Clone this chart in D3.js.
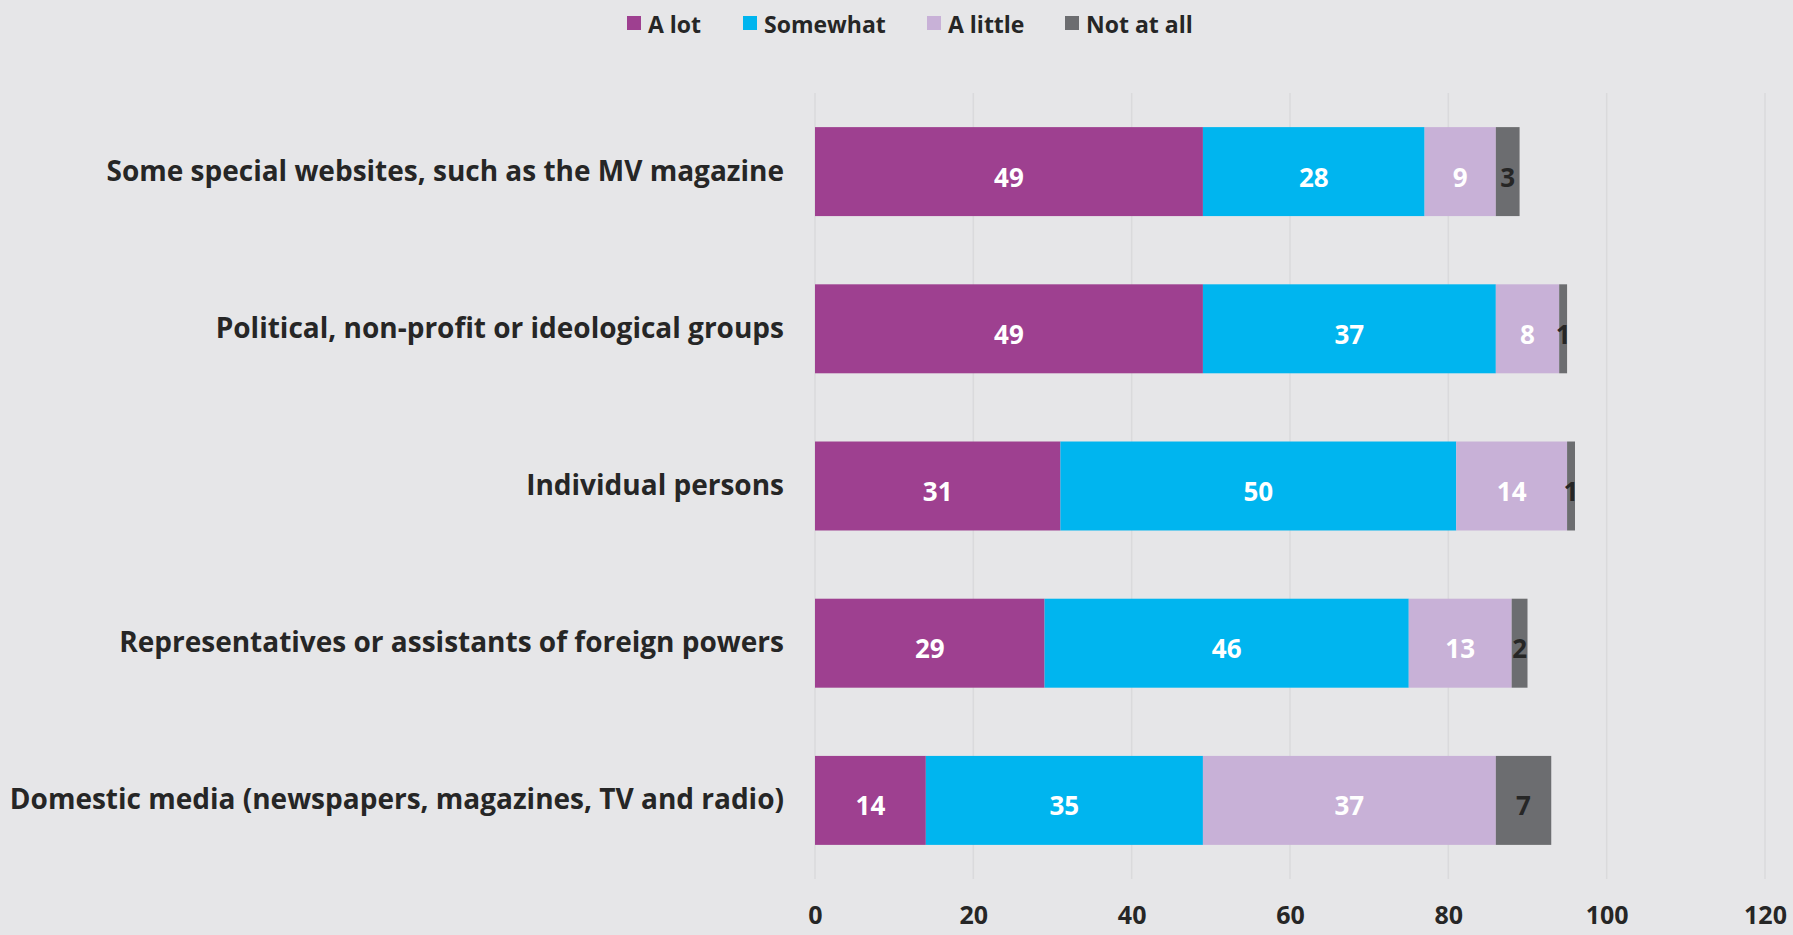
<!DOCTYPE html>
<html>
<head>
<meta charset="utf-8">
<script src="https://cdn.jsdelivr.net/npm/d3@7"></script>
<style>
  html, body { margin: 0; padding: 0; background: #e6e6e8; }
  svg { display: block; }
  text { font-family: "Open Sans", "Noto Sans", sans-serif; }
</style>
</head>
<body>
<svg id="chart" width="1793" height="935"></svg>
<script>
const categories = [
  "Some special websites, such as the MV magazine",
  "Political, non-profit or ideological groups",
  "Individual persons",
  "Representatives or assistants of foreign powers",
  "Domestic media (newspapers, magazines, TV and radio)"
];
const seriesNames = ["A lot", "Somewhat", "A little", "Not at all"];
const aLot      = [49, 49, 31, 29, 14];
const somewhat  = [28, 37, 50, 46, 35];
const aLittle   = [9, 8, 14, 13, 37];
const notAtAll  = [3, 1, 1, 2, 7];
const xTicks = [0, 20, 40, 60, 80, 100, 120];

const colors = ["#9e4090", "#00b5ef", "#c8b1d7", "#6c6d70"];
const labelColors = ["#ffffff", "#ffffff", "#ffffff", "#262626"];

const rows = categories.map((c, i) => ({
  category: c,
  "A lot": aLot[i], "Somewhat": somewhat[i], "A little": aLittle[i], "Not at all": notAtAll[i]
}));

const svg = d3.select("#chart");
const x = d3.scaleLinear().domain([0, 120]).range([815, 1765]);
const y = d3.scaleBand().domain(categories).range([93, 879]).paddingInner(0.434).paddingOuter(0.217);

// gridlines
svg.append("g").selectAll("line").data(xTicks).join("line")
  .attr("x1", d => x(d)).attr("x2", d => x(d))
  .attr("y1", 93).attr("y2", 879)
  .attr("stroke", "#dadadc").attr("stroke-width", 1.5);

// x axis labels
const xAxis = d3.axisBottom(x).tickValues(xTicks).tickSize(0).tickPadding(0);
const gx = svg.append("g").attr("transform", "translate(0,906)").call(xAxis);
gx.select(".domain").remove();
gx.selectAll("text")
  .attr("font-size", 25).attr("font-weight", 700).attr("fill", "#262626")
  .attr("dy", "0.71em")
  .style("font-family", '"Open Sans", sans-serif');

// y axis labels
const yAxis = d3.axisLeft(y).tickSize(0).tickPadding(0);
const gy = svg.append("g").attr("transform", "translate(784,0)").call(yAxis);
gy.select(".domain").remove();
gy.selectAll("text")
  .attr("font-size", 28).attr("font-weight", 700).attr("fill", "#262626")
  .style("font-family", '"Open Sans", sans-serif');

// stacked bars
const stack = d3.stack().keys(seriesNames)(rows);
const layers = svg.append("g").selectAll("g").data(stack).join("g")
  .attr("fill", (d, i) => colors[i]);
layers.selectAll("rect").data(d => d).join("rect")
  .attr("x", d => x(d[0]))
  .attr("y", d => y(d.data.category))
  .attr("width", d => x(d[1]) - x(d[0]))
  .attr("height", y.bandwidth());

// data labels
const lbl = svg.append("g").selectAll("g").data(stack).join("g")
  .attr("fill", (d, i) => labelColors[i]);
lbl.selectAll("text").data(d => d).join("text")
  .attr("x", d => (x(d[0]) + x(d[1])) / 2)
  .attr("y", d => y(d.data.category) + y.bandwidth() / 2 + 5)
  .attr("text-anchor", "middle")
  .attr("dominant-baseline", "central")
  .attr("font-size", 26).attr("font-weight", 700)
  .text(d => d[1] - d[0]);

// legend
const legendX = [627, 743, 927, 1065];
const leg = svg.append("g").selectAll("g").data(seriesNames).join("g")
  .attr("transform", (d, i) => `translate(${legendX[i]},23)`);
leg.append("rect").attr("x", 0).attr("y", -7).attr("width", 14).attr("height", 14)
  .attr("fill", (d, i) => colors[i]);
leg.append("text").attr("x", 21).attr("y", 1).attr("dominant-baseline", "central")
  .attr("font-size", 23).attr("font-weight", 700).attr("fill", "#262626")
  .text(d => d);
</script>
</body>
</html>
